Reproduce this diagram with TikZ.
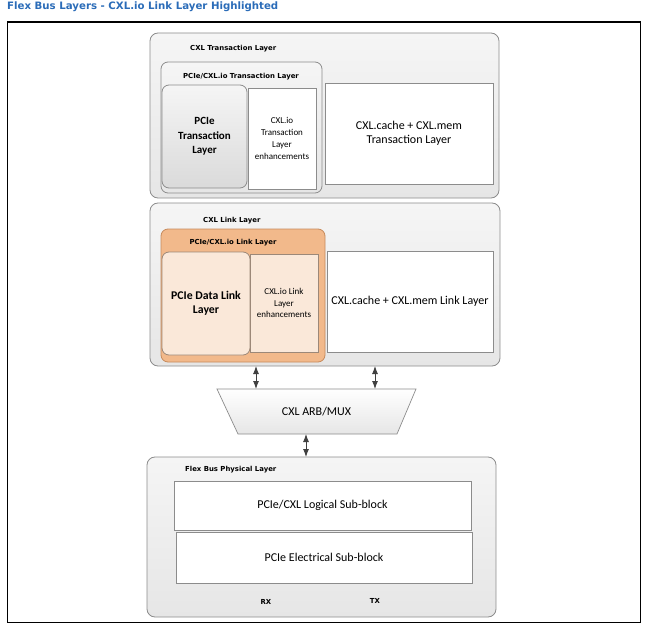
\documentclass[tikz,border=0pt]{standalone}
\usepackage{fontspec}
\setmainfont{Carlito}
\newfontfamily\tagfont{DejaVu Sans}
\usepackage{tikz}
\usetikzlibrary{arrows.meta,positioning,backgrounds,calc}
\definecolor{titleblue}{HTML}{2B6CB8}
\definecolor{boxgray}{HTML}{E6E6E6}
\definecolor{boxgraylight}{HTML}{F5F5F5}
\definecolor{coregray}{HTML}{DADADA}
\definecolor{edgegray}{HTML}{8C8C8C}
\definecolor{linkorange}{HTML}{F2B98B}
\definecolor{linkedge}{HTML}{C68A5C}
\definecolor{peach}{HTML}{FAE8D9}
\definecolor{peachedge}{HTML}{9C8878}
\definecolor{arrowgray}{HTML}{404040}

\begin{document}
\begin{tikzpicture}[
  x=1pt, y=-1pt,
  layerbox/.style={
    draw=edgegray,
    top color=boxgraylight,
    bottom color=boxgray,
    rounded corners=8pt,
    line width=0.8pt,
    anchor=north west,
    inner sep=0pt,
    outer sep=0pt
  },
  corebox/.style={
    draw=edgegray,
    top color=boxgraylight,
    bottom color=coregray,
    rounded corners=7pt,
    line width=0.8pt,
    anchor=north west,
    inner sep=0pt,
    outer sep=0pt,
    align=center,
    font=\bfseries\fontsize{11}{14.5}\selectfont
  },
  plainbox/.style={
    draw=edgegray,
    fill=white,
    line width=0.7pt,
    anchor=north west,
    inner sep=0pt,
    outer sep=0pt,
    align=center,
    font=\fontsize{12}{14}\selectfont
  },
  smallbox/.style={
    plainbox,
    font=\fontsize{9}{11.8}\selectfont
  },
  tagtext/.style={
    font=\tagfont\bfseries\fontsize{6.9}{8}\selectfont,
    inner sep=0pt
  },
  dblarrow/.style={
    {Latex[length=8pt,width=6pt]}-{Latex[length=8pt,width=6pt]},
    draw=arrowgray,
    line width=0.9pt
  }
]

  \useasboundingbox (0,0) rectangle (649,634);

  % ----------------------------------------------------
  % TITLE AND FRAME
  % ----------------------------------------------------
  \node[anchor=base west, inner sep=0pt, text=titleblue,
    font=\tagfont\bfseries\fontsize{10.2}{12}\selectfont] (title) at (7,10)
    {Flex Bus Layers - CXL.io Link Layer Highlighted};

  \node[draw=black, line width=1.2pt, anchor=north west, inner sep=0pt,
    minimum width=633pt, minimum height=600pt] (frame) at (6.5,21.5) {};

  % ----------------------------------------------------
  % CXL TRANSACTION LAYER
  % ----------------------------------------------------
  \node[layerbox, minimum width=349pt, minimum height=165pt] (tlyr) at (150,33) {};
  \node[tagtext, anchor=west] (tlyrlbl) at (190,49) {CXL Transaction Layer};

  \node[layerbox, rounded corners=7pt, minimum width=161pt, minimum height=131pt] (iotl) at (161,62) {};
  \node[tagtext] (iotllbl) at (241,77) {PCIe/CXL.io Transaction Layer};

  \node[corebox, minimum width=85pt, minimum height=103pt] (pcietl) at (162,85)
    {PCIe\\Transaction\\Layer};
  \node[smallbox, minimum width=68pt, minimum height=101pt] (iotlx) at (248,88)
    {CXL.io\\Transaction\\Layer\\enhancements};
  \node[plainbox, minimum width=168pt, minimum height=101pt] (cmtl) at (325,83)
    {CXL.cache + CXL.mem\\Transaction Layer};

  % ----------------------------------------------------
  % CXL LINK LAYER (highlighted)
  % ----------------------------------------------------
  \node[layerbox, minimum width=350pt, minimum height=163pt] (llyr) at (150,203) {};
  \node[tagtext, anchor=west] (llyrlbl) at (203,221) {CXL Link Layer};

  \node[layerbox, draw=linkedge, top color=linkorange, bottom color=linkorange,
    rounded corners=7pt, minimum width=164pt, minimum height=133pt] (iolink) at (161,229) {};
  \node[tagtext] (iolinklbl) at (233,243) {PCIe/CXL.io Link Layer};

  \node[corebox, draw=peachedge, top color=peach, bottom color=peach,
    font=\bfseries\fontsize{11.8}{14}\selectfont,
    minimum width=88pt, minimum height=103pt] (pdll) at (162,252)
    {PCIe Data Link\\Layer};
  \node[smallbox, draw=peachedge, fill=peach, minimum width=68pt, minimum height=98pt] (iollx) at (250,254)
    {CXL.io Link\\Layer\\enhancements};
  \node[plainbox, minimum width=166pt, minimum height=101pt] (cmll) at (327,251)
    {CXL.cache + CXL.mem Link Layer};

  % ----------------------------------------------------
  % ARB/MUX
  % ----------------------------------------------------
  \node[inner sep=0pt, outer sep=0pt, minimum width=199pt, minimum height=45pt,
    font=\fontsize{12}{14}\selectfont] (mux) at (316.5,411.5) {CXL ARB/MUX};
  \begin{scope}[on background layer]
    \draw[draw=edgegray, line width=0.7pt, top color=white, bottom color=boxgray]
      (mux.north west) -- (mux.north east) -- ([xshift=-19pt]mux.south east)
      -- ([xshift=21pt]mux.south west) -- cycle;
  \end{scope}

  % ----------------------------------------------------
  % FLEX BUS PHYSICAL LAYER
  % ----------------------------------------------------
  \node[layerbox, minimum width=349pt, minimum height=160pt] (phy) at (147,457) {};
  \node[tagtext, anchor=west] (phylbl) at (185,470) {Flex Bus Physical Layer};

  \node[plainbox, minimum width=297pt, minimum height=49pt] (logic) at (174,481)
    {PCIe/CXL Logical Sub-block};
  \node[plainbox, minimum width=296pt, minimum height=51pt] (elec) at (176,532)
    {PCIe Electrical Sub-block};

  \node[tagtext] (rx) at (266,602) {RX};
  \node[tagtext] (tx) at (375,601) {TX};

  % Arrows between layers
  \coordinate (armleft) at (256,0);
  \coordinate (armright) at (375,0);
  \coordinate (armmid) at (306,0);
  \draw[dblarrow] (llyr.south -| armleft) -- (mux.north -| armleft);
  \draw[dblarrow] (llyr.south -| armright) -- (mux.north -| armright);
  \draw[dblarrow] (mux.south -| armmid) -- (phy.north -| armmid);

\end{tikzpicture}
\end{document}
